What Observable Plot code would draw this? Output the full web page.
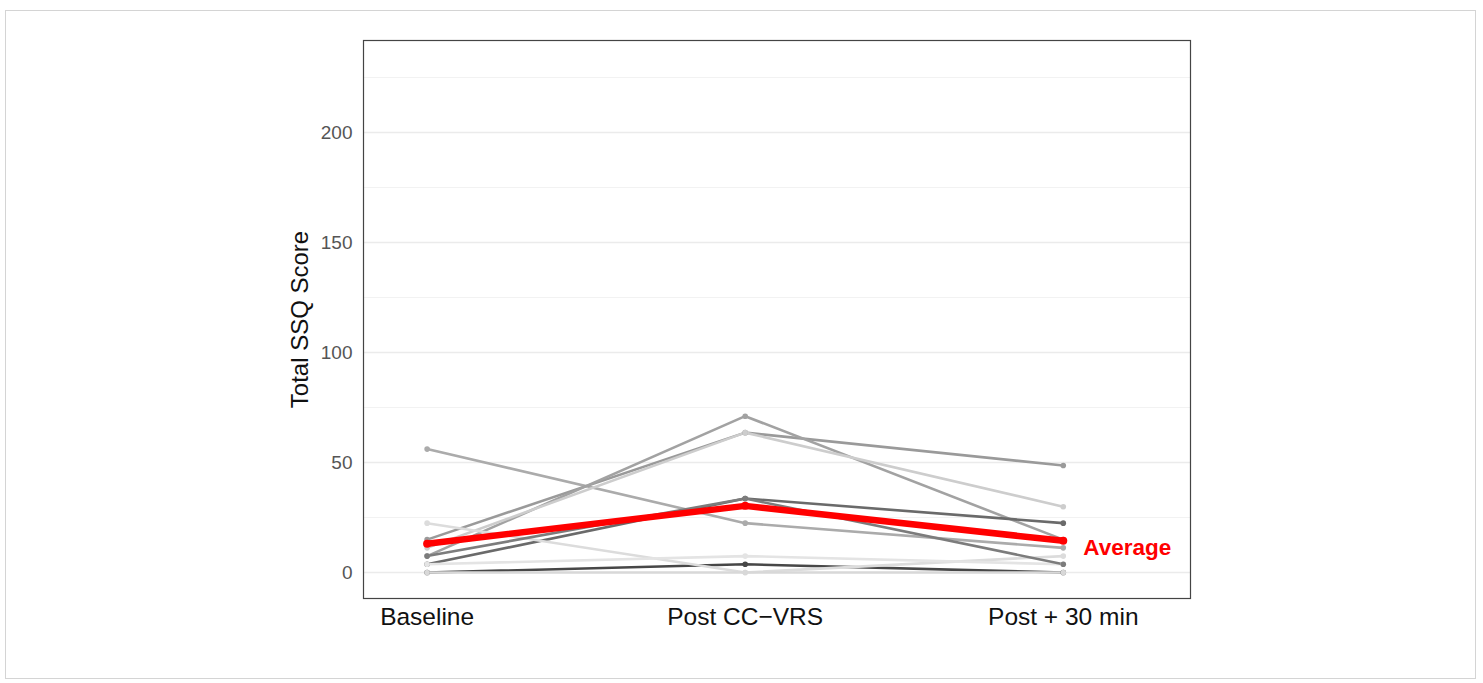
<!DOCTYPE html>
<html>
<head>
<meta charset="utf-8">
<script src="https://cdn.jsdelivr.net/npm/d3@7"></script>
<script src="https://cdn.jsdelivr.net/npm/@observablehq/plot@0.6"></script>
<style>
  html, body { margin: 0; padding: 0; background: #fff; }
  #wrap { position: relative; width: 1483px; height: 683px; overflow: hidden; }
  #border { position: absolute; left: 5px; top: 10px; width: 1471px; height: 669px; border: 1px solid #d4d4d4; box-sizing: border-box; pointer-events: none; }
  #chart { position: absolute; left: 0; top: 0; }
</style>
</head>
<body>
<div id="wrap"><div id="chart"></div><div id="border"></div></div>
<script>
// ---- data ----
const times = ["Baseline", "Post CC\u2212VRS", "Post + 30 min"];
const participants = ["P1", "P2", "P3", "P4", "P5", "P6", "P7", "P8", "P9", "P10"];
const baseline = [56.10, 14.96, 7.48, 11.22, 3.74, 0, 22.44, 3.74, 7.48, 0];
const postVR   = [22.44, 63.58, 71.06, 63.58, 33.66, 3.74, 0, 7.48, 33.66, 0];
const post30   = [11.22, 48.62, 14.96, 29.92, 22.44, 0, 7.48, 3.74, 3.74, 0];
const shades   = ["#ababab", "#9a9a9a", "#a2a2a2", "#cdcdcd", "#6a6a6a", "#474747", "#dcdcdc", "#e4e4e4", "#7c7c7c", "#d8d8d8"];
const average  = [13.1, 30.3, 14.4];
const yTicks = [0, 50, 100, 150, 200];
const yMinor = [25, 75, 125, 175, 225];
const avgLabel = "Average";
const yLabel = "Total SSQ Score";

// tidy table built from the arrays
const series = [baseline, postVR, post30];
const rows = [];
participants.forEach((p, i) => {
  series.forEach((s, t) => rows.push({id: p, t: t + 1, v: s[i], color: shades[i]}));
});
const avgRows = average.map((v, t) => ({t: t + 1, v}));

const font = "'Liberation Sans', Arial, Helvetica, sans-serif";

const chart = Plot.plot({
  width: 1483,
  height: 683,
  marginLeft: 363,
  marginRight: 293,
  marginTop: 40,
  marginBottom: 85,
  style: {fontFamily: font, background: "#fff", overflow: "visible"},
  x: {type: "linear", domain: [0.8, 3.4]},
  y: {domain: [-11.8, 241.8]},
  color: {type: "identity"},
  marks: [
    Plot.gridY(yMinor, {stroke: "#f2f2f2", strokeOpacity: 1, strokeWidth: 1}),
    Plot.gridY(yTicks, {stroke: "#ebebeb", strokeOpacity: 1, strokeWidth: 1.6}),
    Plot.line(rows, {x: "t", y: "v", z: "id", stroke: "color", strokeWidth: 2.6, strokeLinejoin: "round"}),
    Plot.dot(rows, {x: "t", y: "v", fill: "color", r: 2.8}),
    Plot.line(avgRows, {x: "t", y: "v", stroke: "red", strokeWidth: 6.5, strokeLinejoin: "round"}),
    Plot.dot(avgRows, {x: "t", y: "v", fill: "red", r: 4}),
    Plot.text([avgRows[avgRows.length - 1]], {x: "t", y: "v", text: () => avgLabel, dx: 20, dy: 7, textAnchor: "start", fill: "red", fontWeight: "bold", fontSize: 22.5}),
    Plot.frame({stroke: "#444", strokeWidth: 1.2}),
    Plot.axisY(yTicks, {tickSize: 0, tickPadding: 11, fontSize: 19, color: "#555", label: null}),
    Plot.axisX([1, 2, 3], {tickSize: 0, tickPadding: 9, fontSize: 24.5, color: "#111", tickFormat: d => times[d - 1], label: null}),
    Plot.text([yLabel], {frameAnchor: "left", text: d => d, rotate: -90, dx: -63, textAnchor: "middle", fontSize: 24, fill: "#111"})
  ]
});
document.getElementById("chart").appendChild(chart);
</script>
</body>
</html>
